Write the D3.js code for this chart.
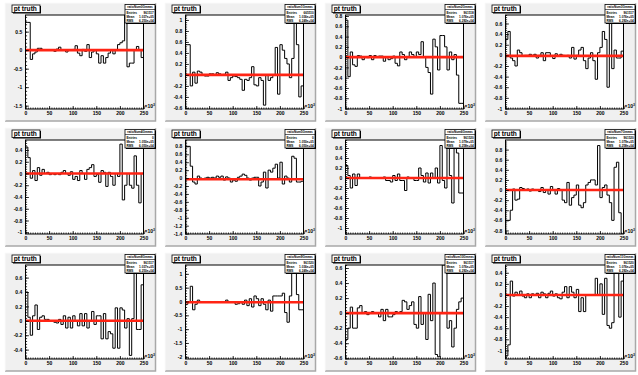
<!DOCTYPE html>
<html><head><meta charset="utf-8">
<script src="https://cdn.jsdelivr.net/npm/d3@7"></script>
<style>html,body{margin:0;padding:0;background:#fff;} svg{display:block;}</style>
</head><body>
<svg id="c" width="638" height="375"></svg>
<script>
// ---------- data ----------
const xMin = 0, xMax = 250, nBins = 50;
const xTickValues = [0, 50, 100, 150, 200, 250];
const titleText = "pt truth";

const panel1 = [0.75,0.75,-0.25,-0.1,-0.05,0.05,0.05,0.0,0.0,0.0,
  0.0,0.0,-0.03,0.03,0.08,0.0,0.0,-0.05,0.0,0.0,
  0.02,0.12,-0.08,-0.15,0.02,-0.03,0.15,-0.2,-0.05,0.0,
  -0.1,-0.35,-0.15,-0.35,-0.2,-0.08,0.0,-0.1,0.0,0.15,
  0.2,0.25,1.2,-0.45,-0.35,-0.35,0.0,0.1,0.0,-0.2];
const panel2 = [0.55,0.55,-0.2,0.05,-0.15,0.07,0.05,0.0,-0.02,-0.02,
  0.02,0.02,0.0,0.04,0.02,0.0,0.01,0.05,-0.1,-0.05,
  -0.02,-0.03,-0.05,-0.08,-0.28,-0.08,-0.1,-0.05,0.15,-0.18,
  -0.2,-0.05,-0.1,-0.55,0.0,-0.1,-0.05,0.0,0.5,-0.35,
  0.55,0.45,0.3,0.2,-0.05,0.3,1.2,0.55,-0.4,-0.2];
const panel3 = [0.72,-0.38,0.1,-0.15,-0.18,0.03,0.02,-0.05,0.0,-0.01,
  0.03,-0.05,0.03,0.0,0.02,0.02,-0.08,0.0,-0.05,-0.03,
  0.02,-0.12,-0.17,0.1,0.05,-0.05,0.0,0.1,0.05,0.0,
  0.1,0.05,0.3,0.0,-0.2,-0.3,-0.72,0.35,0.2,-0.25,
  0.42,0.42,0.2,-0.25,0.1,-0.05,0.05,-0.35,-0.9,-0.9];
const panel4 = [0.3,0.45,-0.05,-0.1,-0.2,0.1,0.05,-0.02,0.0,0.0,
  0.02,0.0,0.02,-0.05,0.0,0.05,-0.1,0.05,0.05,-0.02,
  -0.06,0.03,-0.02,0.02,0.0,-0.02,0.0,-0.05,0.15,-0.07,
  0.0,0.1,0.15,-0.1,-0.25,-0.05,0.05,-0.1,-0.45,0.05,
  0.15,0.45,0.3,-0.6,1.0,-0.25,0.1,-0.05,-0.05,0.08];
const panel5 = [0.45,0.27,-0.08,0.05,-0.12,0.1,-0.03,0.07,0.0,0.02,
  -0.02,0.0,-0.02,0.0,-0.02,0.02,0.05,0.0,-0.03,0.03,
  -0.1,-0.05,-0.12,0.05,0.0,-0.1,0.07,0.1,0.15,-0.05,
  -0.02,-0.15,0.05,0.02,-0.22,0.02,-0.05,-0.2,0.0,-0.05,
  0.5,-0.45,-0.2,0.0,-0.2,-0.25,0.3,-0.2,-0.5,0.0];
const panel6 = [0.8,0.8,0.3,-0.1,-0.15,0.05,0.0,-0.02,0.0,0.02,
  0.0,0.02,0.0,0.05,0.02,0.05,-0.05,0.03,0.0,-0.1,
  -0.05,-0.08,0.02,0.05,0.1,0.07,0.0,-0.05,0.0,0.02,
  0.02,-0.2,-0.1,0.15,-0.25,0.2,0.15,0.25,0.35,0.0,
  0.4,-0.15,0.05,0.0,-0.1,0.55,0.5,-0.1,-0.1,-0.08];
const panel7 = [0.25,0.05,-0.2,0.08,-0.15,0.08,0.0,0.0,0.0,0.01,
  0.02,0.0,0.0,0.0,0.01,0.0,0.02,-0.05,-0.05,-0.08,
  0.05,-0.05,0.08,-0.05,-0.05,-0.25,0.02,0.0,0.0,-0.05,
  -0.05,0.2,0.05,-0.08,0.1,-0.1,0.1,0.0,0.2,-0.1,
  0.65,-0.05,-0.2,0.8,0.05,-0.5,0.8,0.5,-0.3,-0.3];
const panel8 = [-0.6,-0.6,-0.4,0.02,-0.2,-0.18,0.05,0.03,0.0,0.02,
  -0.02,0.02,0.0,0.0,-0.03,0.05,-0.05,0.0,-0.08,0.07,
  0.0,-0.08,0.03,0.0,-0.2,-0.25,0.15,-0.3,-0.15,-0.1,
  0.1,-0.3,-0.35,-0.25,0.1,0.15,0.2,0.2,0.1,0.88,
  -0.15,0.05,0.1,-0.1,-0.25,-0.6,0.45,0.55,-0.45,-0.9];
const panel9 = [0.4,0.05,-0.2,0.07,0.22,-0.12,0.05,0.07,0.02,0.02,
  0.0,0.0,-0.02,-0.03,0.02,-0.05,0.07,-0.1,0.05,-0.1,
  0.07,0.0,-0.07,0.1,-0.07,0.1,-0.1,0.0,0.13,-0.05,
  0.07,0.07,-0.25,0.1,-0.25,-0.15,-0.18,-0.38,0.18,-0.38,
  0.18,0.15,-0.1,0.03,-0.48,0.03,0.8,-0.12,-0.12,0.5];
const panel10 = [-0.1,0.0,0.55,-0.3,-0.1,0.05,0.0,0.0,0.0,0.0,
  0.0,-0.02,0.0,0.0,-0.02,0.0,0.0,0.05,0.0,-0.02,
  -0.03,-0.1,-0.08,0.0,-0.1,0.05,-0.15,0.1,-0.2,0.2,
  0.1,-0.15,0.1,-0.1,-0.3,0.05,-0.35,0.2,0.2,0.2,
  0.2,0.3,-0.4,-0.75,0.2,1.4,1.4,0.25,-0.3,-0.3];
const panel11 = [-0.35,-0.2,0.08,-0.2,-0.2,0.07,0.1,0.0,0.02,-0.02,
  0.0,0.02,0.0,0.0,-0.05,0.05,-0.1,0.05,-0.05,-0.05,
  -0.02,0.02,0.0,0.02,0.17,0.15,0.05,0.1,0.15,-0.15,
  -0.2,0.22,-0.15,0.0,-0.35,0.25,-0.1,0.4,-0.55,-0.58,
  0.0,0.7,0.7,-0.2,-0.1,-0.45,-0.2,0.05,0.15,0.2];
const panel12 = [-1.1,-0.9,0.25,-0.02,0.05,0.0,0.07,-0.02,-0.05,0.02,
  -0.05,0.02,0.0,0.03,-0.05,0.05,0.02,-0.05,0.03,0.07,
  -0.02,0.02,-0.05,-0.07,0.05,0.15,-0.05,0.15,0.05,-0.05,
  0.1,-0.3,-0.05,-0.3,0.0,0.0,0.0,0.0,0.3,0.0,
  0.2,-0.35,0.3,-0.55,-0.6,-0.5,0.4,0.55,-0.4,0.25];

const panels = [panel1,panel2,panel3,panel4,panel5,panel6,panel7,panel8,panel9,panel10,panel11,panel12];
const yDomains = [[-1.59,0.95],[-0.62,1.09],[-1.01,0.82],[-1.01,0.76],
                  [-1.03,0.57],[-1.41,0.96],[-1.12,0.76],[-0.87,0.99],
                  [-0.53,0.775],[-2.08,1.32],[-0.61,0.64],[-1.155,0.54]];
const yTickSteps = [0.5,0.2,0.2,0.2,0.2,0.2,0.2,0.2,0.2,0.5,0.2,0.2];
const fitLevels = [0,0,0,-0.01,0,-0.03,0,0,0,-0.03,0,0];
const statsNames = ["ratioNum0Gmeas","ratioNum1Gmeas","ratioNum2Gmeas","ratioNum3Gmeas",
                    "ratioNum4Gmeas","ratioNum5Gmeas","ratioNum6Gmeas","ratioNum7Gmeas",
                    "ratioNum8Gmeas","ratioNum9Gmeas","ratioNum10Gmeas","ratioNum11Gmeas"];
const statsEntries = ["961517","665510","961518","961517","0","0","961520","961520","961517","961520","961517","961520"];
const statsMeans = ["1.037e+05","1.036e+05","1.076e+05","1.076e+05","1.050e+05","1.050e+05",
                    "1.079e+05","1.079e+05","1.037e+05","1.036e+05","1.076e+05","1.076e+05"];
const statsRMS = ["6.250e+04","6.249e+04","6.292e+04","6.292e+04","6.050e+04","6.050e+04",
                  "6.258e+04","6.258e+04","6.250e+04","6.249e+04","6.292e+04","6.292e+04"];

// ---------- drawing ----------
const FONT = "'Liberation Sans', Arial, Helvetica, sans-serif";
const svg = d3.select("#c");
const colW = 160, rowH = 125;
const binW = (xMax - xMin) / nBins;
const binEdges = d3.range(nBins + 1).map(i => xMin + i * binW);
const fmt = v => { const s = (+v.toFixed(3)).toString(); return s === "-0" ? "0" : s; };

panels.forEach((vals, k) => {
  const c = k % 4, r = Math.floor(k / 4);
  const g = svg.append("g").attr("transform", `translate(${c * colW},${r * rowH})`);

  // pad
  g.append("rect").attr("x", 5).attr("y", 3).attr("width", 150.5).attr("height", 118).attr("fill", "#f0f0f0");
  g.append("path").attr("d", "M5,121 L155.5,121 L155.5,3").attr("fill", "none")
    .attr("stroke", "#a8a8a8").attr("stroke-width", 1.5);
  g.append("path").attr("d", "M5,121 L5,3 L155.5,3").attr("fill", "none")
    .attr("stroke", "#fafafa").attr("stroke-width", 1);

  const fl = 25.5, fr = 143.5, ft = 15, fb = 109;
  const [ymin, ymax] = yDomains[k];
  const x = d3.scaleLinear().domain([xMin, xMax]).range([fl, fr]);
  const y = d3.scaleLinear().domain([ymin, ymax]).range([fb, ft]).clamp(true);

  g.append("rect").attr("x", fl).attr("y", ft).attr("width", fr - fl).attr("height", fb - ft).attr("fill", "#fff");

  const clipId = "clip" + k;
  g.append("clipPath").attr("id", clipId).append("rect")
    .attr("x", fl).attr("y", ft).attr("width", fr - fl).attr("height", fb - ft);

  // histogram step line
  const pts = [[xMin, ymin]];
  vals.forEach((v, i) => { pts.push([binEdges[i], v]); pts.push([binEdges[i + 1], v]); });
  pts.push([xMax, ymin]);
  const line = d3.line().x(d => x(d[0])).y(d => y(d[1]));
  g.append("path").attr("d", line(pts)).attr("fill", "none").attr("stroke", "#000")
    .attr("stroke-width", 1).attr("clip-path", `url(#${clipId})`);

  // fit line
  g.append("path").attr("d", line([[xMin, fitLevels[k]], [xMax, fitLevels[k]]]))
    .attr("stroke", "#ff2414").attr("stroke-width", 2.6).attr("fill", "none")
    .attr("clip-path", `url(#${clipId})`);

  // frame
  g.append("rect").attr("x", fl).attr("y", ft).attr("width", fr - fl).attr("height", fb - ft)
    .attr("fill", "none").attr("stroke", "#000").attr("stroke-width", 1);

  // y axis
  const step = yTickSteps[k];
  const eps = 1e-6;
  const yMajor = d3.range(Math.ceil(ymin / step - eps), Math.floor(ymax / step + eps) + 1).map(i => i * step);
  const minorStep = step === 0.5 ? 0.1 : 0.04;
  const yMinor = d3.range(Math.ceil(ymin / minorStep - eps), Math.floor(ymax / minorStep + eps) + 1).map(i => i * minorStep);
  const yaMinor = g.append("g").attr("transform", `translate(${fl},0)`)
    .call(d3.axisLeft(y).tickValues(yMinor).tickSize(-1.6).tickFormat(""));
  const ya = g.append("g").attr("transform", `translate(${fl},0)`)
    .call(d3.axisLeft(y).tickValues(yMajor).tickSize(-3.4).tickPadding(3.2).tickFormat(fmt));
  [ya, yaMinor].forEach(a => { a.select(".domain").remove(); a.selectAll("line").attr("stroke", "#000").attr("stroke-width", 0.8); });
  ya.selectAll("text").attr("font-size", 5).attr("font-family", FONT).attr("font-weight", "bold").attr("fill", "#000");

  // x axis
  const xMinor = d3.range(xMin, xMax + 0.001, 5);
  const xaMinor = g.append("g").attr("transform", `translate(0,${fb})`)
    .call(d3.axisBottom(x).tickValues(xMinor).tickSize(-1.5).tickFormat(""));
  const xa = g.append("g").attr("transform", `translate(0,${fb})`)
    .call(d3.axisBottom(x).tickValues(xTickValues).tickSize(-3).tickPadding(2.2).tickFormat(d3.format("d")));
  [xa, xaMinor].forEach(a => { a.select(".domain").remove(); a.selectAll("line").attr("stroke", "#000").attr("stroke-width", 0.8); });
  xa.selectAll("text").attr("font-size", 5).attr("font-family", FONT).attr("font-weight", "bold").attr("fill", "#000");

  const ex = g.append("text").attr("x", fr + 1).attr("y", fb - 1.2).attr("font-size", 5)
    .attr("font-family", FONT).attr("font-weight", "bold").attr("fill", "#000");
  ex.append("tspan").text("\u00d710");
  ex.append("tspan").attr("dy", -1.8).attr("font-size", 3.4).text("3");

  // title box
  g.append("rect").attr("x", 13).attr("y", 6).attr("width", 28).attr("height", 7.5).attr("fill", "#000");
  g.append("rect").attr("x", 12).attr("y", 5).attr("width", 28).attr("height", 7.5)
    .attr("fill", "#fff").attr("stroke", "#000").attr("stroke-width", 0.8);
  g.append("text").attr("x", 13.8).attr("y", 11).attr("font-size", 6.6).attr("font-family", FONT)
    .attr("font-weight", "bold").attr("fill", "#000").text(titleText);

  // stats box
  const sx = 125, sy = 4.5, sw = 30, sh = 18.5;
  g.append("rect").attr("x", sx + 1).attr("y", sy + 1).attr("width", sw).attr("height", sh).attr("fill", "#000");
  g.append("rect").attr("x", sx).attr("y", sy).attr("width", sw).attr("height", sh)
    .attr("fill", "#fff").attr("stroke", "#000").attr("stroke-width", 0.8);
  g.append("line").attr("x1", sx).attr("x2", sx + sw).attr("y1", sy + 5).attr("y2", sy + 5)
    .attr("stroke", "#000").attr("stroke-width", 0.6);
  const st = (tx, ty, s, anchor) => g.append("text").attr("x", tx).attr("y", ty).attr("font-size", 3.1)
    .attr("font-family", FONT).attr("font-weight", "bold").attr("fill", "#000").attr("text-anchor", anchor).text(s);
  st(sx + sw / 2, sy + 3.8, statsNames[k], "middle");
  st(sx + 1.5, sy + 9, "Entries", "start");
  st(sx + sw - 1.2, sy + 9, statsEntries[k], "end");
  st(sx + 1.5, sy + 13, "Mean", "start");
  st(sx + sw - 1.2, sy + 13, statsMeans[k], "end");
  st(sx + 1.5, sy + 17, "RMS", "start");
  st(sx + sw - 1.2, sy + 17, statsRMS[k], "end");
});
</script>
</body></html>
